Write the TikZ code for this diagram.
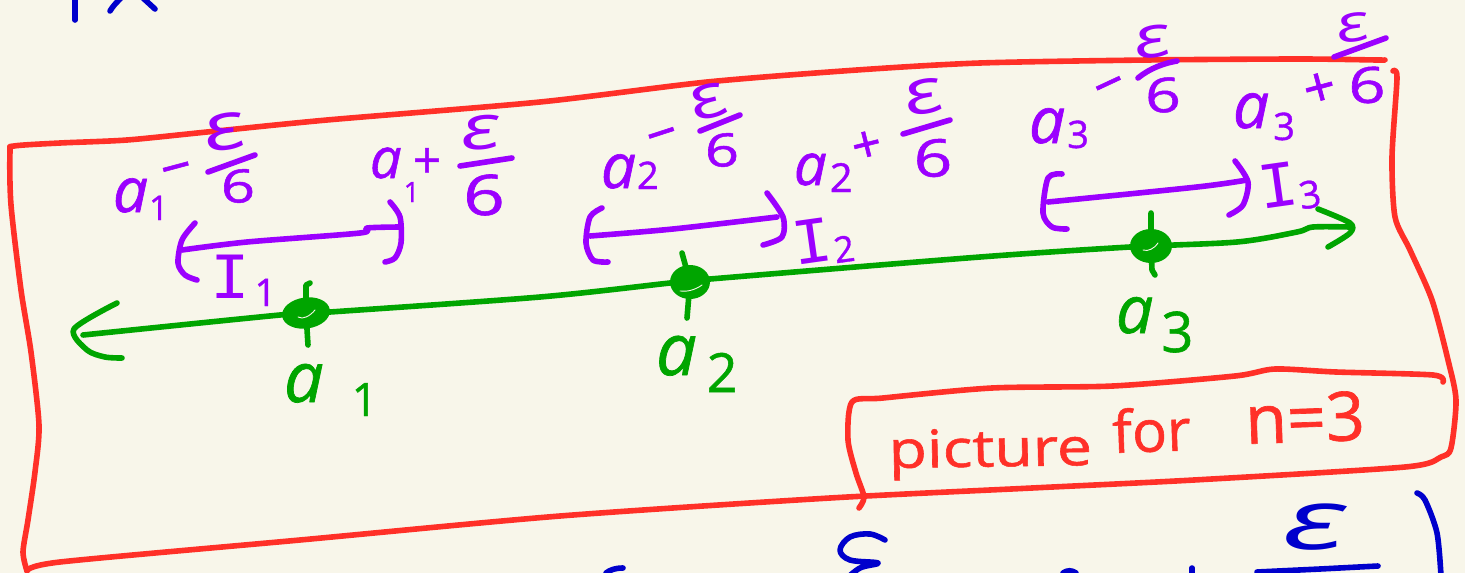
\documentclass[tikz,border=0pt]{standalone}
\usepackage{fontspec}
\newfontfamily\hand[FakeBold=1]{Open Sans}
\newfontfamily\handn{Open Sans}
\newfontfamily\handi{Liberation Mono}
\definecolor{bg}{HTML}{F8F6EA}
\definecolor{rd}{HTML}{FF3028}
\definecolor{pu}{HTML}{9B00FF}
\definecolor{gr}{HTML}{00A500}
\definecolor{bl}{HTML}{0000CC}
\newcommand\fs[1]{\fontsize{#1}{#1}\selectfont}
% letter with lowered index: letter, index, kern, drop, index size
\newcommand\sbx[5]{{\itshape #1}\kern#3pt\raisebox{-#4pt}{\fs{#5}#2}}
\newcommand\ibx[4]{{\handi\fs{66}I}\kern#2pt\raisebox{-#3pt}{\hand\fs{#4}#1}}
\usetikzlibrary{shapes.geometric}
\tikzset{
  ink/.style={line width=5.6pt,line cap=round,line join=round},
  redink/.style={ink,draw=rd},
  purink/.style={ink,draw=pu},
  grnink/.style={ink,draw=gr},
  blueink/.style={ink,draw=bl},
  word/.style={inner sep=0pt,outer sep=0pt,font=\hand},
  lab/.style={word,anchor=base west},
  sym/.style={word,anchor=center},
  pl/.style={text=pu},
  gl/.style={text=gr},
  rl/.style={text=rd},
  bll/.style={text=bl},
  epsi/.style={xscale=1.45},
  six/.style={xscale=1.3},
  dot/.style={ellipse,fill=gr,draw=gr,line width=2pt,inner sep=0pt},
  fracbar/.style={purink},
}
\begin{document}
\begin{tikzpicture}[x=1pt,y=-1pt]
\useasboundingbox (0,0) rectangle (1465,573);
\fill[bg] (0,0) rectangle (1465,573);
\clip (0,0) rectangle (1465,573);

% red outer frame, left-top
\draw[redink] plot[smooth,tension=.45] coordinates {(27,571) (23,552) (28,520) (35,472) (39,425) (31,352) (21,290) (11,205) (10,152) (14,146) (60,143) (127,140) (207,132) (327,120) (540,102) (707,82) (857,70) (980,63) (1147,60) (1300,59) (1377,60) (1385,60)};
% red outer frame, right and bottom
\draw[redink] plot[smooth,tension=.45] coordinates {(1393,71) (1397,78) (1392,157) (1395,217) (1410,250) (1432,300) (1448,360) (1456,400) (1451,448) (1441,457) (1405,467) (1194,480) (1032,488) (830,498) (560,516) (300,540) (60,562) (27,571)};
% inner red box
\draw[redink] plot[smooth,tension=.45] coordinates {(1443,382) (1433,375) (1336,372) (1275,369) (1235,376) (1113,386) (992,388) (883,398) (852,402) (848,440) (856,473) (864,497) (859,508)};

\node[lab,rl,font=\hand\fs{52},xscale=1.2,rotate=1] (pic) at (889,468) {picture};
\node[lab,rl,font=\hand\fs{58},rotate=2] (for) at (1113,453) {for};
\node[lab,rl,font=\hand\fs{68},rotate=2] (neq) at (1246,444) {n=3};

% green axis
\draw[grnink] plot[smooth,tension=.5] coordinates {(83,335) (280,315) (330,312) (540,297) (670,283) (710,279) (980,257) (1130,247) (1237,242) (1297,232) (1313,227) (1350,227)};
\draw[grnink] plot[smooth,tension=.5] coordinates {(117,303) (74,329) (87,350) (105,357) (122,358)};
\draw[grnink] plot[smooth,tension=.5] coordinates {(1318,209) (1350,223) (1350,233) (1328,247)};

\node[dot,minimum width=46pt,minimum height=29pt,rotate=8] (p1) at (306,313) {};
\node[dot,minimum width=38pt,minimum height=32pt] (p2) at (690,282) {};
\node[dot,minimum width=40pt,minimum height=32pt] (p3) at (1151,246) {};
\draw[grnink] (310,283) -- (306,285) -- (p1.center) -- (308,345);
\draw[grnink] (682,253) -- (p2.center) -- (687,318);
\draw[grnink] (1151,213) -- (p3.center) -- (1152,270) -- (1155,275);
\draw[bg,line width=.9pt,line cap=round] (298,317) .. controls (303,320) and (310,316) .. (315,310);
\draw[bg,line width=.9pt,line cap=round] (680,291) .. controls (687,292) and (695,290) .. (702,285);
\draw[bg,line width=.9pt,line cap=round] (1143,250) .. controls (1148,252) and (1155,248) .. (1158,243);

\node[lab,gl,font=\hand\fs{70}] (ga1) at (284,402) {\sbx{a}{1}{28}{14}{46}};
\node[lab,gl,font=\hand\fs{72}] (ga2) at (656,375) {\sbx{a}{2}{10}{17}{54}};
\node[lab,gl,font=\hand\fs{66}] (ga3) at (1116,333) {\sbx{a}{3}{8}{19}{56}};

% purple intervals
\draw[purink] plot[smooth,tension=.5] coordinates {(195,223) (182,240) (178,263) (185,275) (197,280)};
\draw[purink] plot[smooth,tension=.5] coordinates {(182,250) (247,242) (360,233) (367,228) (400,227)};
\draw[purink] plot[smooth,tension=.5] coordinates {(390,202) (400,217) (401,243) (395,258) (385,262)};
\draw[purink] plot[smooth,tension=.5] coordinates {(602,208) (590,217) (586,243) (593,260) (608,262)};
\draw[purink] plot[smooth,tension=.5] coordinates {(590,236) (673,229) (777,217)};
\draw[purink] plot[smooth,tension=.5] coordinates {(767,193) (783,217) (782,237) (763,245)};
\draw[purink] plot[smooth,tension=.5] coordinates {(1062,174) (1048,178) (1043,213) (1052,227) (1067,229)};
\draw[purink] plot[smooth,tension=.5] coordinates {(1048,202) (1197,187) (1247,180)};
\draw[purink] plot[smooth,tension=.5] coordinates {(1235,161) (1248,182) (1243,205) (1229,215)};

\node[lab,pl,font=\hand\fs{50}] (i1) at (210,298) {\ibx{1}{5}{8}{38}};
\node[lab,pl,font=\hand\fs{50},rotate=8] (i2) at (795,265) {\ibx{2}{1}{4}{36}};
\node[lab,pl,font=\hand\fs{50},rotate=8] (i3) at (1261,209) {\ibx{3}{0}{6}{38}};

% purple endpoint labels
\node[lab,pl,font=\hand\fs{62}] (l1) at (113,212) {\sbx{a}{1}{1}{8}{34}};
\node[sym,pl,font=\hand\fs{54},rotate=15] (l1m) at (178,175) {−};
\node[sym,pl,epsi,font=\handn\itshape\fs{66},rotate=12] (l1e) at (224,132) {ε};
\draw[fracbar] (208,172) -- (255,155);
\node[sym,pl,six,font=\hand\fs{46}] (l1s) at (238,186) {6};

\node[lab,pl,font=\hand\fs{56}] (l2) at (370,178) {\sbx{a}{1}{2}{24}{28}};
\node[sym,pl,font=\hand\fs{50}] (l2p) at (427,163) {+};
\node[sym,pl,epsi,font=\handn\itshape\fs{62},rotate=5] (l2e) at (480,133) {ε};
\draw[fracbar] (460,166) -- (512,158);
\node[sym,pl,six,font=\hand\fs{56}] (l2s) at (484,195) {6};

\node[lab,pl,font=\hand\fs{62}] (l3) at (601,188) {\sbx{a}{2}{1}{1}{38}};
\node[sym,pl,font=\hand\fs{54},rotate=18] (l3m) at (664,141) {−};
\node[sym,pl,epsi,font=\handn\itshape\fs{60},rotate=20] (l3e) at (708,102) {ε};
\draw[fracbar] (700,131) -- (740,115);
\node[sym,pl,six,font=\hand\fs{46}] (l3s) at (722,150) {6};

\node[lab,pl,font=\hand\fs{58}] (l4) at (794,185) {\sbx{a}{2}{3}{7}{40}};
\node[sym,pl,font=\hand\fs{52},rotate=14] (l4p) at (867,147) {+};
\node[sym,pl,epsi,font=\handn\itshape\fs{62},rotate=14] (l4e) at (923,97) {ε};
\draw[fracbar] (903,134) -- (950,120);
\node[sym,pl,six,font=\hand\fs{52}] (l4s) at (933,158) {6};

\node[lab,pl,font=\hand\fs{64}] (l5) at (1029,143) {\sbx{a}{3}{2}{5}{38}};
\node[sym,pl,font=\hand\fs{54},rotate=25] (l5m) at (1112,91) {−};
\node[sym,pl,epsi,font=\handn\itshape\fs{58},rotate=10] (l5e) at (1152,42) {ε};
\draw[fracbar] (1138,78) .. controls (1150,68) and (1165,63) .. (1177,61);
\node[sym,pl,six,font=\hand\fs{48}] (l5s) at (1163,95) {6};

\node[lab,pl,font=\hand\fs{64}] (l6) at (1233,128) {\sbx{a}{3}{4}{12}{38}};
\node[sym,pl,font=\hand\fs{56},rotate=15] (l6p) at (1320,90) {+};
\node[sym,pl,epsi,font=\handn\itshape\fs{52},rotate=10] (l6e) at (1353,28) {ε};
\draw[fracbar] (1334,57) -- (1386,38);
\node[sym,pl,six,font=\hand\fs{50}] (l6s) at (1367,85) {6};

% blue remnants of the text above and below
\draw[blueink] (75,0) -- (75,20);
\draw[blueink] (110,11) .. controls (113,6) and (116,3) .. (121,-2);
\draw[blueink] (143,-2) -- (155,9);
\draw[blueink] plot[smooth,tension=.6] coordinates {(885,540) (870,534) (850,537) (840,550) (850,560) (878,563) (860,568) (845,580)};
\draw[blueink] (606,573) .. controls (610,570) and (615,568) .. (623,568);
\draw[blueink] (1063,573) .. controls (1067,570) and (1072,570) .. (1076,573);
\draw[blueink] (1192,568) -- (1192,576);
\node[sym,bll,xscale=1.7,font=\handn\itshape\fs{84}] (be) at (1314,527) {ε};
\draw[blueink] (1257,572) -- (1320,569) -- (1378,566);
\draw[blueink] plot[smooth,tension=.5] coordinates {(1417,493) (1425,500) (1437,533) (1441,576)};
\end{tikzpicture}
\end{document}
